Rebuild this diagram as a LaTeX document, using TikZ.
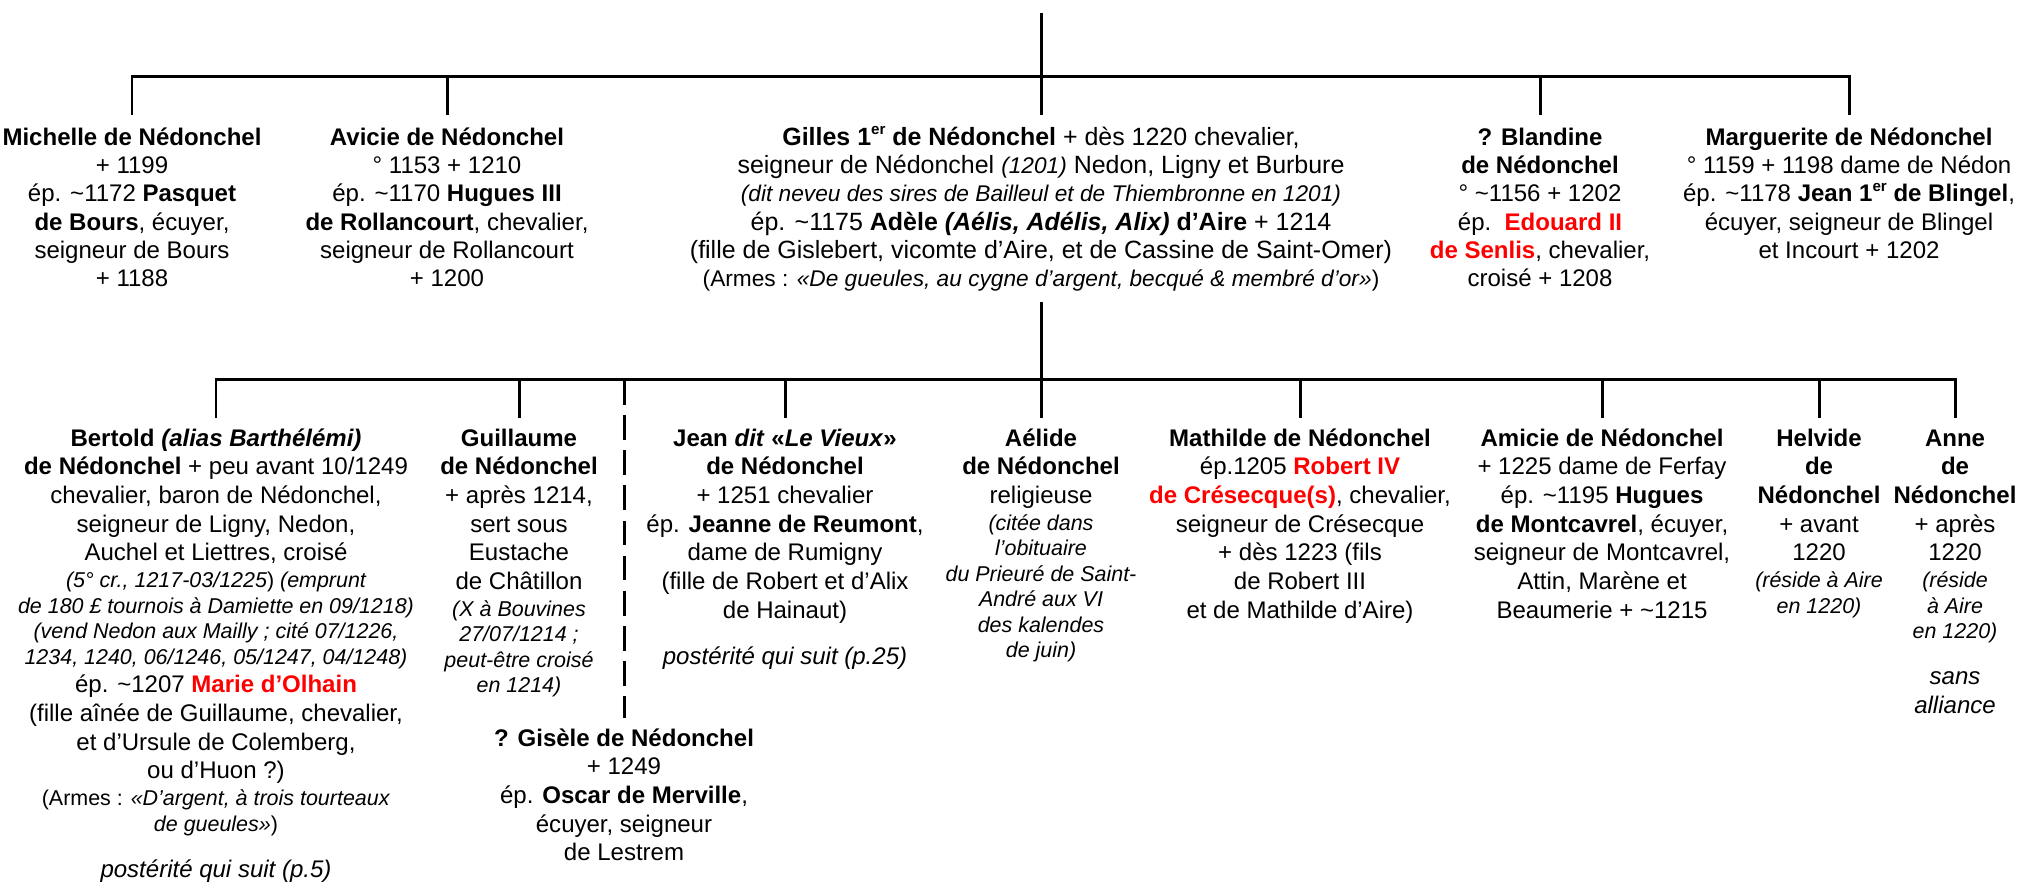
\documentclass[tikz,border=0pt]{standalone}
\usepackage{fontspec}
\setmainfont{Liberation Sans}
\newcommand{\rouge}[1]{\textcolor{red}{\textbf{#1}}}
\newcommand{\taille}[1]{\fontsize{#1}{7pt}\selectfont}
\newcommand{\petit}{\taille{6.1pt}\itshape}
\newcommand{\env}{\textasciitilde}
\newcommand{\ier}{\raisebox{0.8ex}{\fontsize{4.3pt}{4pt}\selectfont er}}

\begin{document}
\begin{tikzpicture}[x=0.01cm,y=-0.01cm,
  every node/.style={align=center,anchor=north,inner sep=0pt},
  gen1/.style={outer sep=3pt,font=\fontsize{6.83pt}{8.05pt}\selectfont},
  gen2/.style={outer sep=2.3pt,font=\fontsize{6.83pt}{8.15pt}\selectfont},
  lien/.style={line width=0.85pt},
  pointille/.style={lien,dash pattern=on 7pt off 3pt}]
\useasboundingbox (0,0) rectangle (2019,886);

% freres et soeurs
\node[gen1] (michelle) at (132,115) {\strut\textbf{Michelle de Nédonchel}\\ + 1199\\ ép. \env1172 \textbf{Pasquet}\\ \textbf{de Bours}, écuyer,\\ seigneur de Bours\\ + 1188};
\node[gen1] (avicie) at (447,115) {\strut\textbf{Avicie de Nédonchel}\\ ° 1153 + 1210\\ ép. \env1170 \textbf{Hugues III}\\ \textbf{de Rollancourt}, chevalier,\\ seigneur de Rollancourt\\ + 1200};
\node[gen1,font=\fontsize{7.1pt}{8.05pt}\selectfont] (gilles) at (1041,115) {\strut\textbf{Gilles 1\ier\ de Nédonchel} + dès 1220 chevalier,\\ seigneur de Nédonchel {\taille{6.45pt}\itshape(1201)} Nedon, Ligny et Burbure\\ {\taille{6.45pt}\itshape(dit neveu des sires de Bailleul et de Thiembronne en 1201)}\\ ép. \env1175 \textbf{Adèle \textit{(Aélis, Adélis, Alix)} d’Aire} + 1214\\ (fille de Gislebert, vicomte d’Aire, et de Cassine de Saint-Omer)\\ {\taille{6.45pt}(Armes : \textit{«De gueules, au cygne d’argent, becqué \& membré d’or»})}};
\node[gen1] (blandine) at (1540,115) {\strut\textbf{? Blandine}\\ \textbf{de Nédonchel}\\ ° \env1156 + 1202\\ ép.\ \ \rouge{Edouard II}\\ \rouge{de Senlis}, chevalier,\\ croisé + 1208};
\node[gen1] (marguerite) at (1849,115) {\strut\textbf{Marguerite de Nédonchel}\\ ° 1159 + 1198 dame de Nédon\\ ép. \env1178 \textbf{Jean 1\ier\ de Blingel},\\ écuyer, seigneur de Blingel\\ et Incourt + 1202};

% enfants de Gilles
\node[gen2] (bertold) at (216,418) {\strut\textbf{Bertold \textit{(alias Barthélémi)}}\\ \textbf{de Nédonchel} + peu avant 10/1249\\ chevalier, baron de Nédonchel,\\ seigneur de Ligny, Nedon,\\ Auchel et Liettres, croisé\\[-0.5pt] {\petit(5° cr., 1217-03/1225\upshape) \itshape(emprunt}\\[-0.9pt] {\petit de 180 £ tournois à Damiette en 09/1218)}\\[-0.9pt] {\petit(vend Nedon aux Mailly ; cité 07/1226,}\\[-0.9pt] {\petit 1234, 1240, 06/1246, 05/1247, 04/1248)}\\ ép. \env1207 \rouge{Marie d’Olhain}\\ (fille aînée de Guillaume, chevalier,\\ et d’Ursule de Colemberg,\\ ou d’Huon ?)\\[-0.5pt] {\taille{6.1pt}(Armes : \textit{«D’argent, à trois tourteaux}}\\[-0.9pt] {\petit de gueules»\upshape)}\\[5pt] \textit{postérité qui suit (p.5)}};
\node[gen2] (guillaume) at (519,418) {\strut\textbf{Guillaume}\\ \textbf{de Nédonchel}\\ + après 1214,\\ sert sous\\ Eustache\\ de Châtillon\\[-0.5pt] {\petit(X à Bouvines}\\[-0.9pt] {\petit 27/07/1214 ;}\\[-0.9pt] {\petit peut-être croisé}\\[-0.9pt] {\petit en 1214)}};
\node[gen2] (jean) at (785,418) {\strut\textbf{Jean \textit{dit} «\textit{Le Vieux}»}\\ \textbf{de Nédonchel}\\ + 1251 chevalier\\ ép. \textbf{Jeanne de Reumont},\\ dame de Rumigny\\ (fille de Robert et d’Alix\\ de Hainaut)\\[5pt] \textit{postérité qui suit (p.25)}};
\node[gen2] (gisele) at (624,718) {\strut\textbf{? Gisèle de Nédonchel}\\ + 1249\\ ép. \textbf{Oscar de Merville},\\ écuyer, seigneur\\ de Lestrem};
\node[gen2] (aelide) at (1041,418) {\strut\textbf{Aélide}\\ \textbf{de Nédonchel}\\ religieuse\\[-0.5pt] {\petit(citée dans}\\[-0.9pt] {\petit l’obituaire}\\[-0.9pt] {\petit du Prieuré de Saint-}\\[-0.9pt] {\petit André aux VI}\\[-0.9pt] {\petit des kalendes}\\[-0.9pt] {\petit de juin)}};
\node[gen2] (mathilde) at (1300,418) {\strut\textbf{Mathilde de Nédonchel}\\ ép.1205 \rouge{Robert IV}\\ \rouge{de Crésecque(s)}, chevalier,\\ seigneur de Crésecque\\ + dès 1223 (fils\\ de Robert III\\ et de Mathilde d’Aire)};
\node[gen2] (amicie) at (1602,418) {\strut\textbf{Amicie de Nédonchel}\\ + 1225 dame de Ferfay\\ ép. \env1195 \textbf{Hugues}\\ \textbf{de Montcavrel}, écuyer,\\ seigneur de Montcavrel,\\ Attin, Marène et\\ Beaumerie + \env1215};
\node[gen2] (helvide) at (1819,418) {\strut\textbf{Helvide}\\ \textbf{de}\\ \textbf{Nédonchel}\\ + avant\\ 1220\\[-0.5pt] {\petit(réside à Aire}\\[-0.9pt] {\petit en 1220)}};
\node[gen2] (anne) at (1955,418) {\strut\textbf{Anne}\\ \textbf{de}\\ \textbf{Nédonchel}\\ + après\\ 1220\\[-0.5pt] {\petit(réside}\\[-0.9pt] {\petit à Aire}\\[-0.9pt] {\petit en 1220)}\\[5pt] \textit{sans}\\ \textit{alliance}};

% traits
\coordinate (racine) at (1041,13);
\coordinate (fratrie) at (1041,77);
\coordinate (enfants) at (1041,380);
\draw[lien] (racine) -- (fratrie);
\draw[lien] (michelle.north) |- (fratrie) -| (marguerite.north);
\foreach \n in {avicie,gilles,blandine}
  \draw[lien] (\n.north) -- (\n.north |- fratrie);
\draw[lien] (gilles.south) -- (enfants);
\draw[lien] (bertold.north) |- (enfants) -| (anne.north);
\foreach \n in {guillaume,jean,aelide,mathilde,amicie,helvide}
  \draw[lien] (\n.north) -- (\n.north |- enfants);
\draw[pointille] (gisele.north |- enfants) -- (gisele.north);
\end{tikzpicture}
\end{document}
